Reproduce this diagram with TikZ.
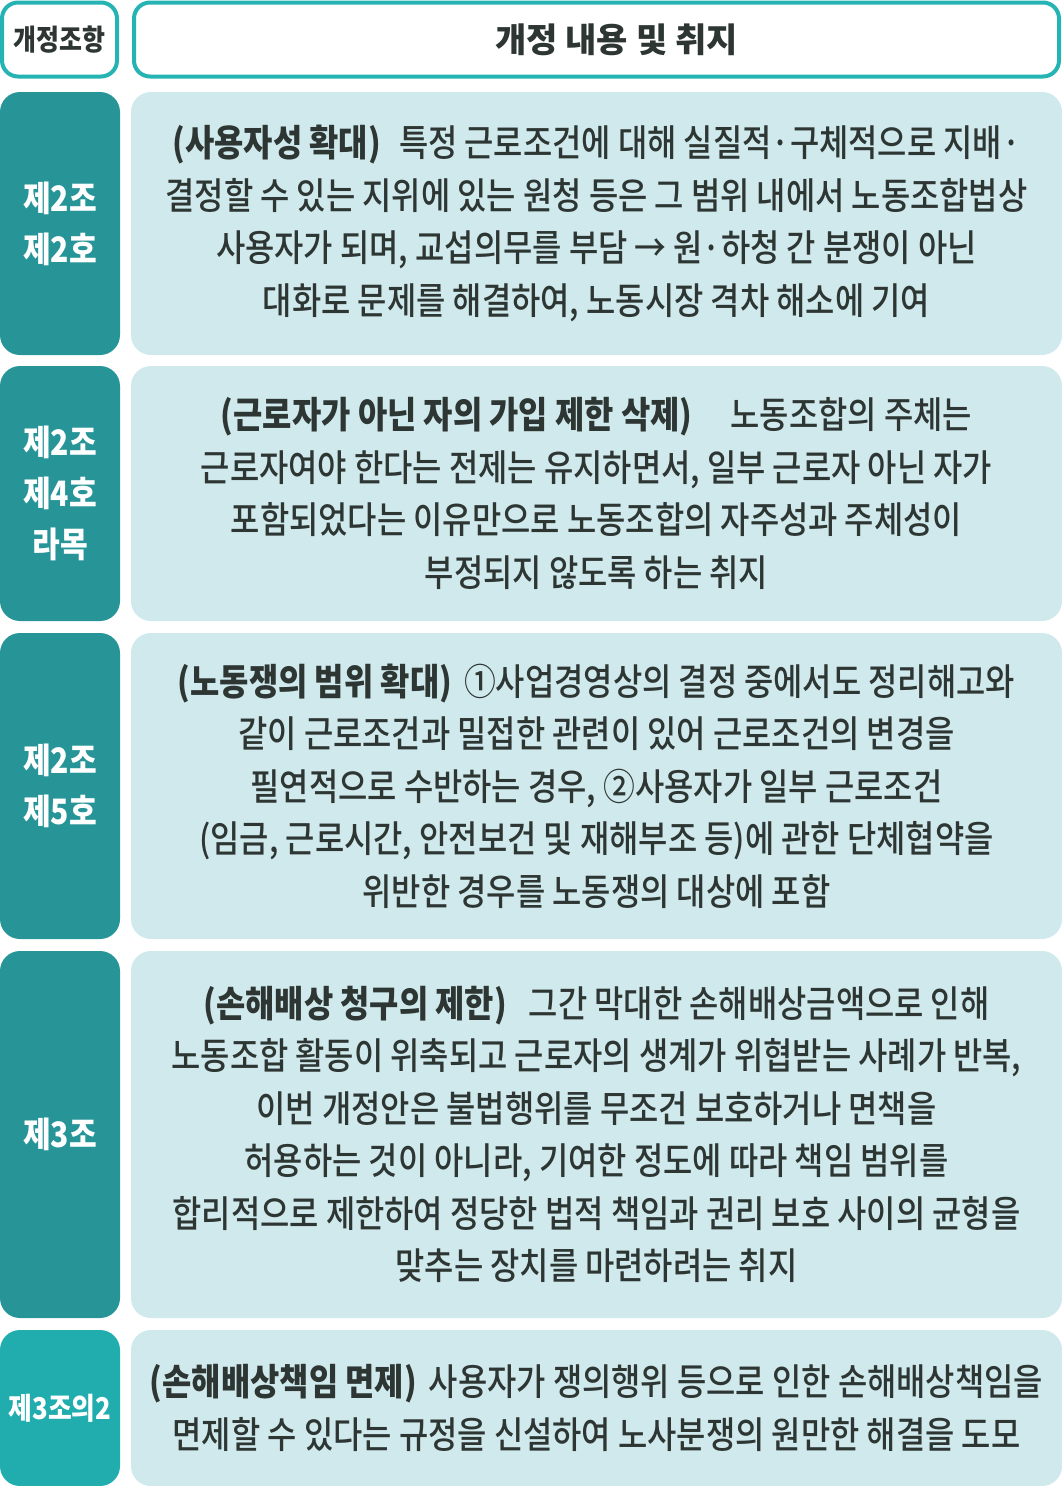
\documentclass[tikz,border=0pt]{standalone}
\usepackage{fontspec}
\setmainfont{Noto Sans CJK KR Medium}[FakeStretch=0.86, BoldFont={Noto Sans CJK KR Black}]
\newfontfamily\headfont{Noto Sans CJK KR Black}
\definecolor{tealdark}{HTML}{279598}
\definecolor{tealmid}{HTML}{21ADAE}
\definecolor{headline}{HTML}{25B3B3}
\definecolor{lightbg}{HTML}{D0E9EC}
\definecolor{ink}{HTML}{2D3633}

\begin{document}
\begin{tikzpicture}[x=1pt, y=-1pt,
    headbox/.style={draw=headline, line width=4pt, rounded corners=16pt, fill=white, text=ink, font=\bfseries\fontsize{29}{36}\selectfont, minimum height=74pt},
    artbox/.style={fill=tealdark, rounded corners=20pt, text=white, align=center, font=\bfseries\fontsize{35}{51}\selectfont, minimum width=120pt, inner sep=0pt},
    aimbox/.style={fill=lightbg, rounded corners=20pt, text=ink, align=center, font=\fontsize{37}{52.5}\selectfont, minimum width=931pt, inner sep=0pt}]
    \useasboundingbox (0,0) rectangle (1062,1486);

    % 머리줄
    \node[headbox, minimum width=115pt] (headArt) at (59.5,39.5) {개정조항};
    \node[headbox, minimum width=925pt] (headAim) at (596.5,39.5) {};
    \node[text=ink, font=\headfont\fontsize{34}{40}\selectfont] at (headAim.center) [xshift=20pt] {개정 내용 및 취지};

    % 제2조 제2호
    \node[artbox, minimum height=263pt] (art1) at (60,223.5) {제2조\\제2호};
    \node[aimbox, minimum height=263pt] (aim1) at (596.5,223.5) {\textbf{(사용자성 확대)}\hspace{18pt}특정 근로조건에 대해 실질적·구체적으로 지배·\\결정할 수 있는 지위에 있는 원청 등은 그 범위 내에서 노동조합법상\\사용자가 되며, 교섭의무를 부담 → 원·하청 간 분쟁이 아닌\\대화로 문제를 해결하여, 노동시장 격차 해소에 기여};

    % 제2조 제4호 라목
    \node[artbox, minimum height=255pt] (art2) at (60,493.5) {제2조\\제4호\\라목};
    \node[aimbox, minimum height=255pt] (aim2) at (596.5,493.5) {\textbf{(근로자가 아닌 자의 가입 제한 삭제)}\hspace{38pt}노동조합의 주체는\\근로자여야 한다는 전제는 유지하면서, 일부 근로자 아닌 자가\\포함되었다는 이유만으로 노동조합의 자주성과 주체성이\\부정되지 않도록 하는 취지};

    % 제2조 제5호
    \node[artbox, minimum height=306pt] (art3) at (60,786) {제2조\\제5호};
    \node[aimbox, minimum height=306pt] (aim3) at (596.5,786) {\textbf{(노동쟁의 범위 확대)}\hspace{12pt}①사업경영상의 결정 중에서도 정리해고와\\같이 근로조건과 밀접한 관련이 있어 근로조건의 변경을\\필연적으로 수반하는 경우, ②사용자가 일부 근로조건\\(임금, 근로시간, 안전보건 및 재해부조 등)에 관한 단체협약을\\위반한 경우를 노동쟁의 대상에 포함};

    % 제3조
    \node[artbox, minimum height=367pt] (art4) at (60,1134.5) {제3조};
    \node[aimbox, minimum height=367pt] (aim4) at (596.5,1134.5) {\textbf{(손해배상 청구의 제한)}\hspace{22pt}그간 막대한 손해배상금액으로 인해\\노동조합 활동이 위축되고 근로자의 생계가 위협받는 사례가 반복,\\이번 개정안은 불법행위를 무조건 보호하거나 면책을\\허용하는 것이 아니라, 기여한 정도에 따라 책임 범위를\\합리적으로 제한하여 정당한 법적 책임과 권리 보호 사이의 균형을\\맞추는 장치를 마련하려는 취지};

    % 제3조의2
    \node[artbox, fill=tealmid, minimum height=156pt, font=\bfseries\fontsize{30}{51}\selectfont] (art5) at (60,1408) {제3조의2};
    \node[aimbox, minimum height=156pt] (aim5) at (596.5,1408) {\textbf{(손해배상책임 면제)}\hspace{12pt}사용자가 쟁의행위 등으로 인한 손해배상책임을\\면제할 수 있다는 규정을 신설하여 노사분쟁의 원만한 해결을 도모};
\end{tikzpicture}
\end{document}
